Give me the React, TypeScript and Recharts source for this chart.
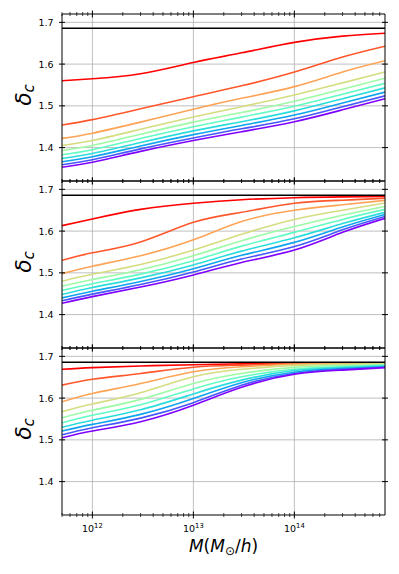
import React from 'react';
import { LineChart, Line, XAxis, YAxis, ReferenceLine } from 'recharts';

// halo mass grid (M_sun/h) shared by all curves
const masses = [5e11, 1e12, 3e12, 1e13, 3e13, 1e14, 3e14, 7.9e14];

const majorTicks = [1e12, 1e13, 1e14];
const tickExponents = ['12', '13', '14'];
const yTicks = [1.4, 1.5, 1.6, 1.7];
const deltaSC = 1.686;

// rainbow colormap, top curve red -> bottom curve violet
const colors = [
  '#ff0000', '#ff572c', '#ffa457', '#d4dd80', '#9cfba4',
  '#62fbc3', '#2adddd', '#0ea4f0', '#4757fb', '#8000ff',
];

const topPanel = [
  [1.560, 1.565, 1.577, 1.604, 1.627, 1.652, 1.667, 1.674],
  [1.454, 1.467, 1.493, 1.522, 1.548, 1.581, 1.617, 1.643],
  [1.422, 1.4345, 1.461, 1.492, 1.518, 1.546, 1.581, 1.608],
  [1.405, 1.417, 1.444, 1.4735, 1.498, 1.526, 1.555, 1.581],
  [1.393, 1.405, 1.432, 1.461, 1.484, 1.511, 1.540, 1.566],
  [1.383, 1.395, 1.422, 1.450, 1.473, 1.499, 1.528, 1.554],
  [1.374, 1.386, 1.412, 1.440, 1.462, 1.488, 1.517, 1.543],
  [1.366, 1.378, 1.404, 1.431, 1.453, 1.478, 1.507, 1.533],
  [1.359, 1.371, 1.397, 1.423, 1.445, 1.469, 1.498, 1.524],
  [1.353, 1.365, 1.391, 1.417, 1.438, 1.462, 1.4905, 1.517],
];

const midPanel = [
  [1.613, 1.629, 1.652, 1.6666, 1.675, 1.680, 1.682, 1.683],
  [1.530, 1.548, 1.574, 1.621, 1.645, 1.6666, 1.674, 1.679],
  [1.498, 1.516, 1.541, 1.579, 1.623, 1.650, 1.663, 1.6737],
  [1.480, 1.4965, 1.520, 1.5547, 1.5923, 1.628, 1.650, 1.6673],
  [1.468, 1.484, 1.5075, 1.541, 1.577, 1.611, 1.638, 1.659],
  [1.458, 1.474, 1.497, 1.529, 1.564, 1.597, 1.628, 1.652],
  [1.448, 1.465, 1.488, 1.519, 1.552, 1.584, 1.618, 1.645],
  [1.440, 1.456, 1.4795, 1.510, 1.542, 1.573, 1.610, 1.640],
  [1.433, 1.449, 1.472, 1.502, 1.533, 1.563, 1.603, 1.635],
  [1.427, 1.443, 1.466, 1.495, 1.525, 1.5547, 1.597, 1.6306],
];

const bottomPanel = [
  [1.669, 1.673, 1.677, 1.680, 1.682, 1.683, 1.6835, 1.684],
  [1.631, 1.645, 1.659, 1.674, 1.679, 1.6825, 1.683, 1.6837],
  [1.591, 1.611, 1.635, 1.663, 1.675, 1.681, 1.682, 1.683],
  [1.5675, 1.586, 1.613, 1.651, 1.669, 1.6785, 1.681, 1.6825],
  [1.553, 1.571, 1.597, 1.635, 1.659, 1.6735, 1.678, 1.680],
  [1.541, 1.559, 1.584, 1.622, 1.651, 1.669, 1.675, 1.6785],
  [1.530, 1.547, 1.572, 1.610, 1.643, 1.666, 1.673, 1.677],
  [1.521, 1.537, 1.561, 1.599, 1.637, 1.662, 1.671, 1.675],
  [1.512, 1.529, 1.552, 1.589, 1.631, 1.659, 1.669, 1.674],
  [1.505, 1.521, 1.5435, 1.583, 1.626, 1.657, 1.667, 1.673],
];

const xDomain: [number, number] = [5e11, 7.9e14];
const yDomain: [number, number] = [1.32, 1.72];

// minor log ticks 2..9 x 10^k inside the domain
const xTicks: number[] = [];
for (let k = 11; k <= 14; k++) {
  for (let m = 1; m <= 9; m++) {
    const v = m * Math.pow(10, k);
    if (v >= xDomain[0] && v <= xDomain[1]) xTicks.push(v);
  }
}

const FONT = '"DejaVu Sans", sans-serif';

const majorIndex = (v: number) => majorTicks.findIndex((t) => Math.abs(t - v) / t < 1e-9);

const bottomTick = (showLabels: boolean) => (props: any) => {
  const { x, y, payload } = props;
  const idx = majorIndex(payload.value);
  const major = idx >= 0;
  const len = major ? 3.5 : 2;
  return (
    <g>
      <line x1={x} x2={x} y1={y - len} y2={y + len} stroke="#000" strokeWidth={major ? 1 : 0.7} />
      {showLabels && major && (
        <text x={x} y={y + 17} textAnchor="middle" fontSize={9.5} fontFamily={FONT} fill="#000">
          10
          <tspan dy={-4.5} fontSize={6.8}>{tickExponents[idx]}</tspan>
        </text>
      )}
    </g>
  );
};

const topTick = (props: any) => {
  const { x, y, payload } = props;
  const major = majorIndex(payload.value) >= 0;
  const len = major ? 3.5 : 2;
  return <line x1={x} x2={x} y1={y - len} y2={y + len} stroke="#000" strokeWidth={major ? 1 : 0.7} />;
};

const leftTick = (props: any) => {
  const { x, y, payload } = props;
  return (
    <g>
      <line x1={x - 3} x2={x + 3} y1={y} y2={y} stroke="#000" strokeWidth={1} />
      <text x={x - 8.5} y={y} dy={3.4} textAnchor="end" fontSize={9.5} fontFamily={FONT} fill="#000">
        {Number(payload.value).toFixed(1)}
      </text>
    </g>
  );
};

const rightTick = (props: any) => {
  const { x, y } = props;
  return <line x1={x - 3} x2={x + 3} y1={y} y2={y} stroke="#000" strokeWidth={1} />;
};

interface PanelProps {
  rows: number[][];
  top: number;
  height: number;
  marginTop: number;
  marginBottom: number;
  showLabels: boolean;
}

// axes get a 1px band (a 0px axis is not drawn), margins are reduced to match
const Panel: React.FC<PanelProps> = ({ rows, top, height, marginTop, marginBottom, showLabels }) => {
  const data = masses.map((m, j) => {
    const row: Record<string, number> = { m };
    rows.forEach((r, i) => {
      row['s' + i] = r[j];
    });
    return row;
  });

  const axisLine = { stroke: '#000', strokeWidth: 1 };

  return (
    <div style={{ position: 'absolute', left: 0, top }}>
      <LineChart
        width={399}
        height={height}
        data={data}
        margin={{ top: marginTop - 1, right: 13, bottom: marginBottom - 1, left: 61 }}
      >
        <XAxis
          dataKey="m"
          type="number"
          scale="log"
          domain={xDomain}
          allowDataOverflow
          ticks={xTicks}
          interval={0}
          height={1}
          tickSize={0}
          tickMargin={0}
          tickLine={false}
          axisLine={axisLine}
          tick={bottomTick(showLabels)}
        />
        <XAxis
          xAxisId="top"
          orientation="top"
          dataKey="m"
          type="number"
          scale="log"
          domain={xDomain}
          allowDataOverflow
          ticks={xTicks}
          interval={0}
          height={1}
          tickSize={0}
          tickMargin={0}
          tickLine={false}
          axisLine={axisLine}
          tick={topTick}
        />
        <YAxis
          type="number"
          domain={yDomain}
          allowDataOverflow
          ticks={yTicks}
          interval={0}
          width={1}
          tickSize={0}
          tickMargin={0}
          tickLine={false}
          axisLine={axisLine}
          tick={leftTick}
        />
        <YAxis
          yAxisId="right"
          orientation="right"
          type="number"
          domain={yDomain}
          allowDataOverflow
          ticks={yTicks}
          interval={0}
          width={1}
          tickSize={0}
          tickMargin={0}
          tickLine={false}
          axisLine={axisLine}
          tick={rightTick}
        />

        {/* grid */}
        {majorTicks.map((v) => (
          <ReferenceLine key={'gx' + v} x={v} stroke="#b0b0b0" strokeWidth={0.8} />
        ))}
        {yTicks.map((v) => (
          <ReferenceLine key={'gy' + v} y={v} stroke="#b0b0b0" strokeWidth={0.8} />
        ))}

        {rows.map((_, i) => (
          <Line
            key={i}
            type="natural"
            dataKey={'s' + i}
            stroke={colors[i]}
            strokeWidth={1.6}
            dot={false}
            isAnimationActive={false}
          />
        ))}

        <ReferenceLine y={deltaSC} stroke="#000" strokeWidth={1.5} />
      </LineChart>
    </div>
  );
};

// plot areas: x 62..385, panels 14..181, 181..348, 348..515
const panelCenters = [97.5, 264.5, 431.5];

export default function App() {
  return (
    <div
      style={{
        position: 'absolute',
        left: 0,
        top: 0,
        width: 399,
        height: 574,
        background: '#fff',
        fontFamily: FONT,
      }}
    >
      <Panel rows={topPanel} top={0} height={191} marginTop={14} marginBottom={10} showLabels={false} />
      <Panel rows={midPanel} top={171} height={187} marginTop={10} marginBottom={10} showLabels={false} />
      <Panel rows={bottomPanel} top={338} height={236} marginTop={10} marginBottom={59} showLabels />

      <svg
        width={399}
        height={574}
        style={{ position: 'absolute', left: 0, top: 0, pointerEvents: 'none' }}
      >
        {panelCenters.map((cy) => (
          <text
            key={cy}
            x={31}
            y={cy - 2.5}
            transform={`rotate(-90, 31, ${cy - 2.5})`}
            textAnchor="middle"
            fontSize={22}
            fontFamily={FONT}
            fontStyle="italic"
            fill="#000"
          >
            δ<tspan fontSize={15} dy={3}>c</tspan>
          </text>
        ))}
        <text x={223.5} y={552} textAnchor="middle" fontSize={17} fontFamily={FONT} fill="#000">
          <tspan fontStyle="italic">M</tspan>(<tspan fontStyle="italic">M</tspan>
          <tspan fontSize={12} dy={3}>⊙</tspan>
          <tspan dy={-3}>/</tspan>
          <tspan fontStyle="italic">h</tspan>)
        </text>
      </svg>
    </div>
  );
}
